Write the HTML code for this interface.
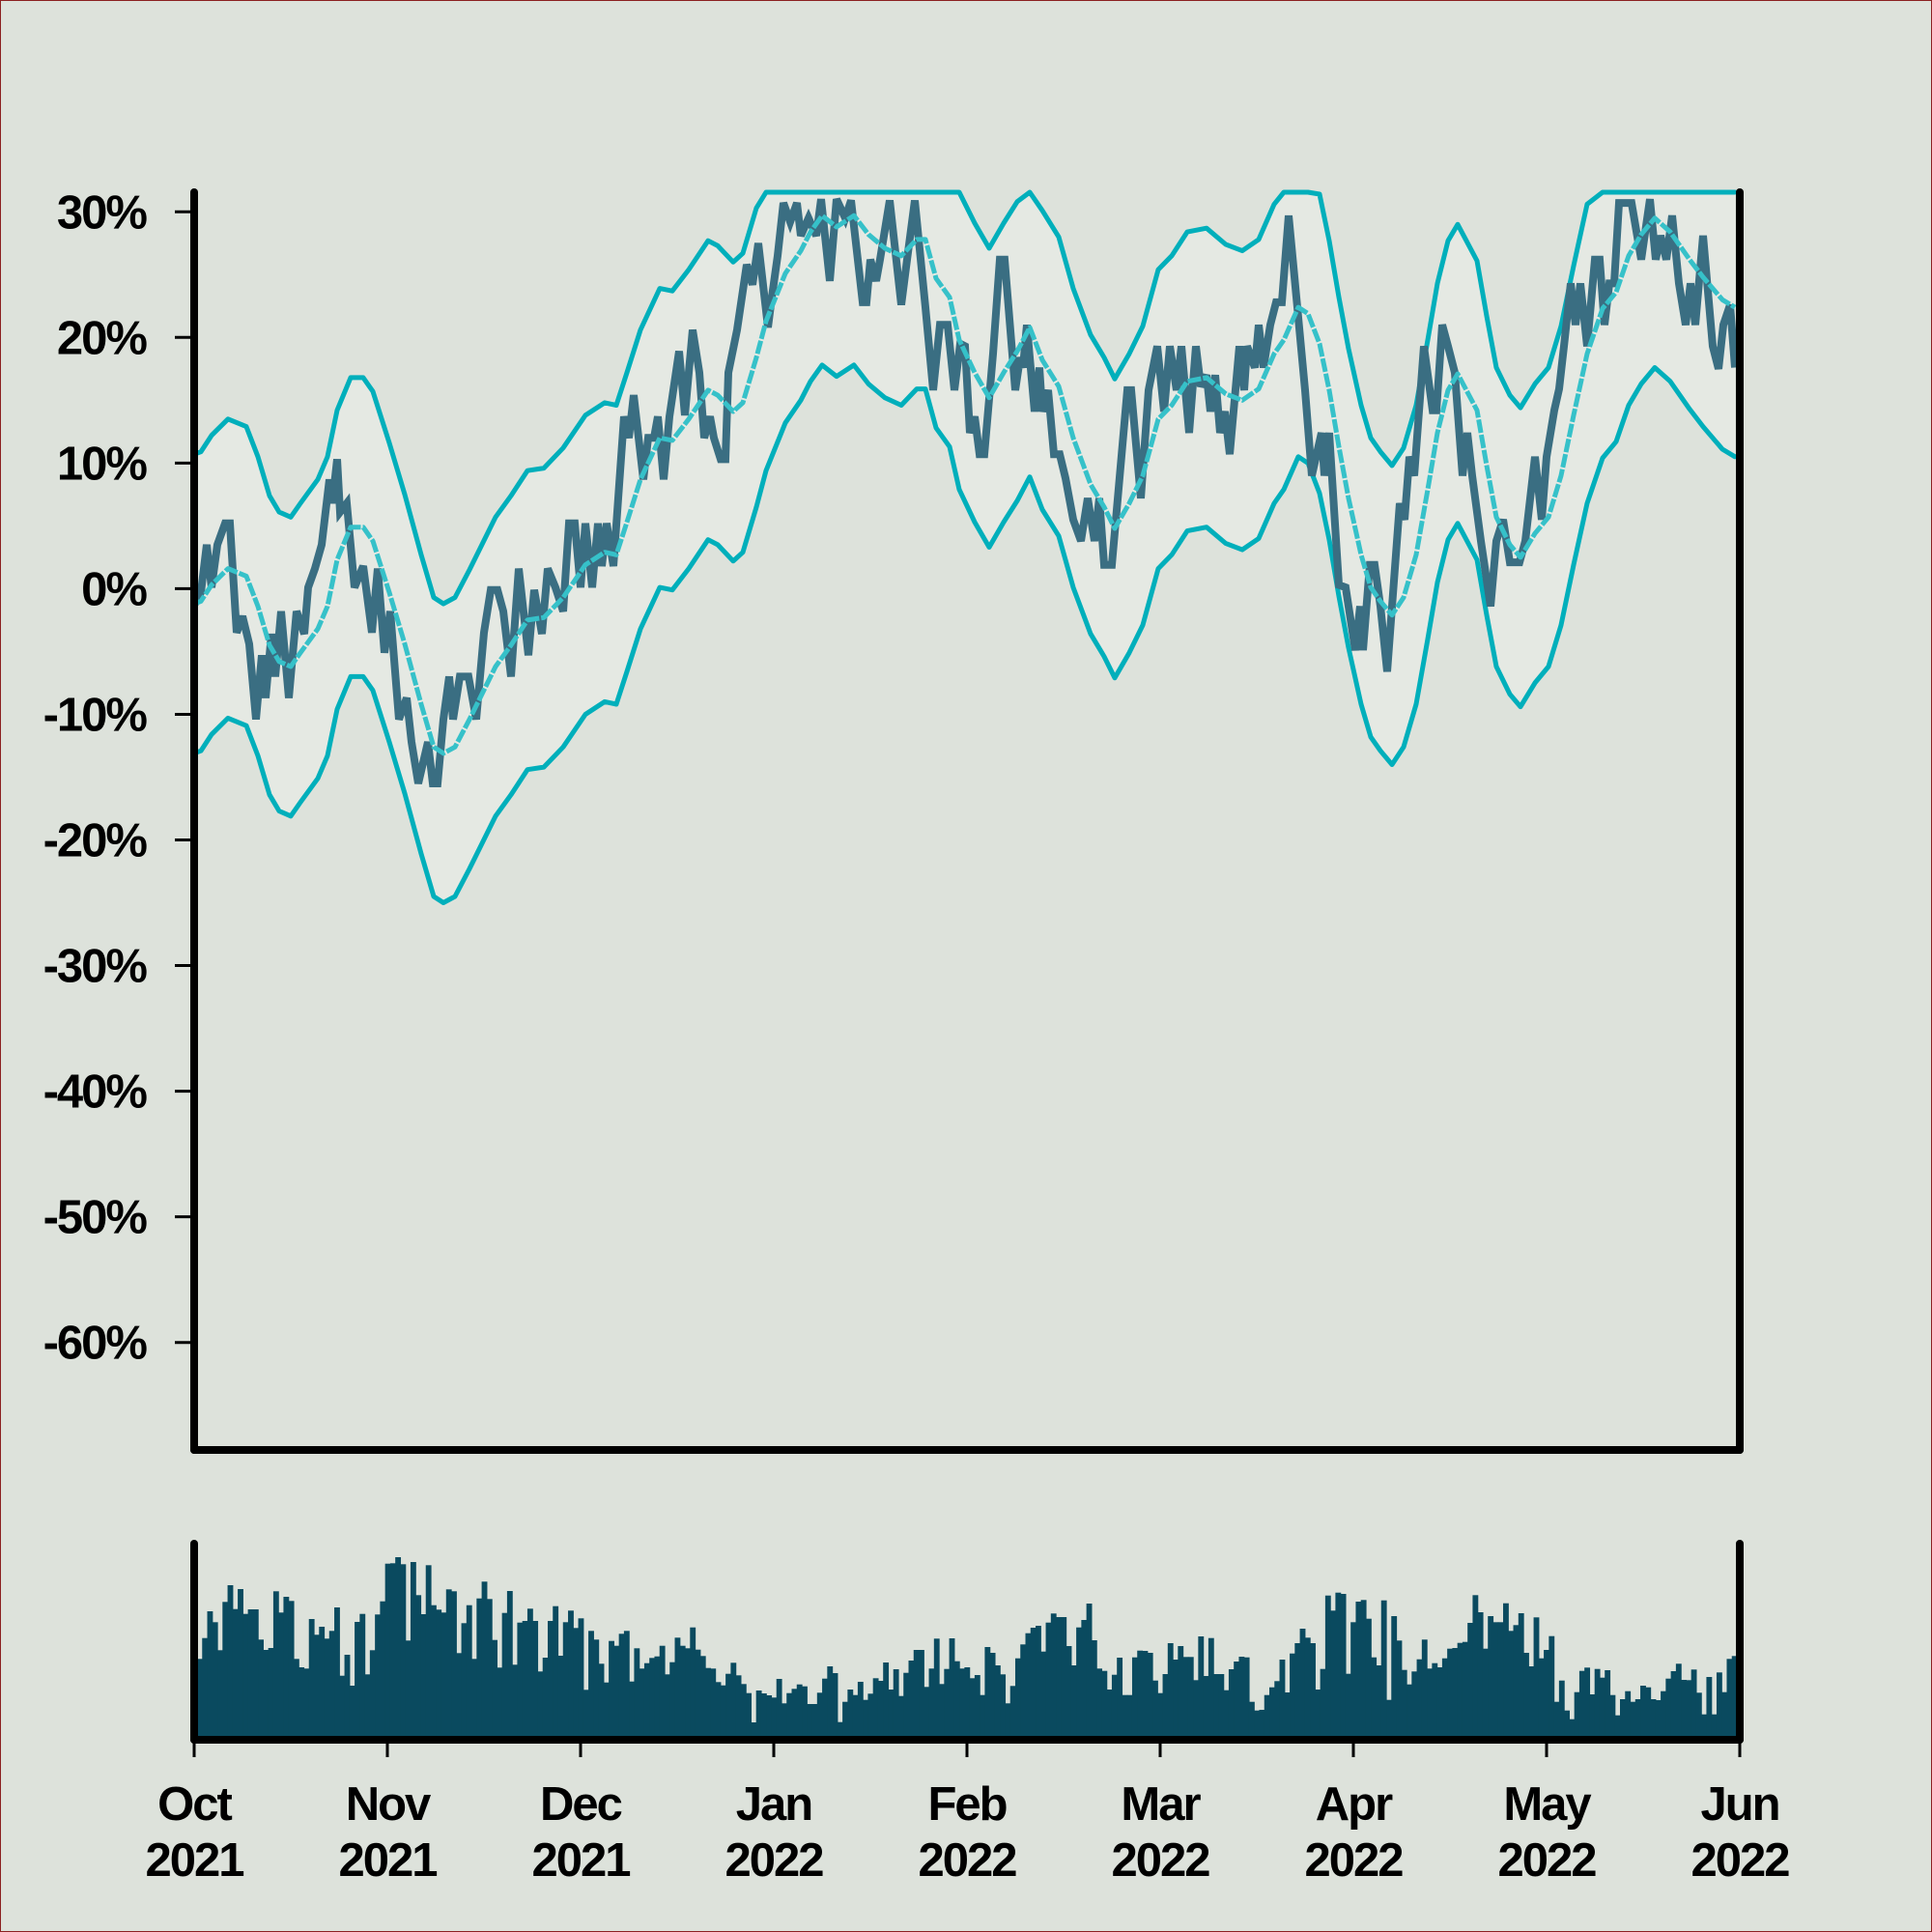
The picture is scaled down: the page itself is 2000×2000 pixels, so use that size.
<!DOCTYPE html>
<html><head><meta charset="utf-8">
<style>
html,body{margin:0;padding:0;background:#dde2db;}
#wrap{width:2000px;height:2000px;position:relative;box-sizing:border-box;border:1px solid #8b2020;background:#dde2db;overflow:hidden;}
svg text{font-family:"Liberation Sans",Arial,sans-serif;font-weight:bold;fill:#000;}
</style></head>
<body>
<div id="wrap">
<svg id="chart" width="2000" height="2000" viewBox="0 0 2000 2000">
  <g id="fillLayer"></g>
  <g id="lineLayer"></g>
  <g id="volLayer"></g>
  <g id="axisLayer"></g>
</svg>
</div>
<script>
const monthLabels = ["Oct","Nov","Dec","Jan","Feb","Mar","Apr","May","Jun"];
const yearLabels = ["2021","2021","2021","2022","2022","2022","2022","2022","2022"];
const yTickValues = [30,20,10,0,-10,-20,-30,-40,-50,-60];
const bandHalfWidth = 11.9;
const priceT = [0,.035,.065,.09,.12,.16,.185,.22,.25,.285,.32,.35,.37,.40,.42,.45,.49,.53,.57,.59,.625,.66,.70,.715,.74,.755,.79,.83,.875,.92,.95,.985,1.015,1.06,1.10,1.125,1.16,1.21,1.235,1.26,1.29,1.32,1.34,1.375,1.42,1.46,1.50,1.535,1.57,1.6,1.64,1.68,1.73,1.76,1.80,1.83,1.87,1.91,1.94,1.97,2.0,2.025,2.06,2.09,2.11,2.135,2.17,2.225,2.25,2.275,2.325,2.35,2.38,2.40,2.43,2.46,2.51,2.54,2.58,2.615,2.64,2.67,2.69,2.725,2.75,2.765,2.81,2.86,2.89,2.92,2.97,2.99,3.02,3.05,3.085,3.12,3.14,3.18,3.22,3.245,3.29,3.325,3.37,3.40,3.46,3.48,3.50,3.53,3.55,3.60,3.66,3.69,3.73,3.785,3.825,3.86,3.90,3.935,3.965,3.99,4.015,4.04,4.065,4.09,4.135,4.17,4.195,4.25,4.275,4.29,4.31,4.35,4.375,4.39,4.42,4.45,4.48,4.51,4.55,4.59,4.625,4.66,4.685,4.71,4.75,4.83,4.85,4.9,4.94,4.985,5.02,5.05,5.085,5.11,5.15,5.185,5.21,5.24,5.26,5.285,5.31,5.335,5.36,5.41,5.435,5.45,5.49,5.51,5.535,5.57,5.6,5.63,5.665,5.71,5.75,5.785,5.81,5.835,5.85,5.875,5.925,5.96,6.01,6.035,6.05,6.085,6.11,6.14,6.175,6.24,6.265,6.29,6.315,6.365,6.41,6.43,6.46,6.49,6.525,6.565,6.59,6.615,6.66,6.71,6.74,6.775,6.81,6.86,6.89,6.94,6.975,7.0,7.04,7.065,7.09,7.125,7.15,7.175,7.21,7.25,7.275,7.3,7.325,7.35,7.375,7.44,7.49,7.535,7.565,7.59,7.62,7.65,7.685,7.72,7.745,7.77,7.81,7.86,7.89,7.915,7.95,7.975];
const priceV = [-1.3,-0.3,3.5,0.1,3.5,5.2,5.2,-3.5,-2.2,-4.4,-10.4,-5.3,-8.7,-3.6,-7.0,-1.8,-8.7,-1.8,-3.6,0.1,1.6,3.5,8.7,6.8,10.3,6.1,6.8,0.1,1.8,-3.5,1.6,-5.1,-1.8,-10.4,-8.7,-12.2,-15.5,-12.2,-15.5,-15.5,-10.4,-7.0,-10.4,-7.0,-7.0,-10.4,-3.5,-0.1,-0.1,-1.8,-7.0,1.6,-5.3,-0.1,-3.6,1.6,0.1,-1.8,5.2,5.2,0.1,5.2,0.1,5.2,1.8,5.2,1.8,13.7,12.0,15.4,8.7,12.0,12.0,13.7,8.7,13.7,18.9,13.8,20.6,17.2,12.0,13.7,12.0,10.3,10.3,17.2,20.6,25.8,24.2,27.5,20.8,23.2,26.5,30.7,29.2,30.7,28.1,29.5,28.1,31.0,24.5,31.0,29.5,30.9,22.8,22.8,26.2,24.5,26.2,30.9,22.6,26.2,30.9,22.4,15.8,21.0,21.0,15.8,19.5,19.3,12.4,13.7,10.7,10.7,18.7,26.2,26.2,15.8,18.4,17.6,21.0,14.1,17.6,14.1,15.8,10.7,10.7,8.8,5.5,3.8,7.2,3.8,7.2,1.9,1.9,15.8,15.8,7.2,15.8,19.3,14.1,19.3,15.8,19.3,12.4,19.3,16.1,17.0,14.1,17.0,12.4,14.1,10.7,19.3,15.8,19.3,17.6,21.0,17.6,21.0,22.8,22.8,29.7,22.4,15.8,9.0,10.7,12.4,9.0,12.4,0.3,0.1,-4.9,-1.4,-4.9,1.9,1.9,-1.4,-6.6,6.8,5.5,10.5,9.0,19.3,14.2,14.2,21.0,19.3,17.2,9.0,12.4,9.0,3.8,-1.4,3.8,5.5,2.1,2.1,3.8,10.5,5.5,10.5,14.2,15.9,19.3,24.3,21.0,24.3,19.3,26.2,26.2,21.0,24.3,24.3,30.7,30.7,26.2,31.0,26.2,28.1,26.2,29.7,24.3,21.0,24.3,21.0,28.1,19.3,17.5,21.0,22.6,17.6];
const midT = [0,.035,.09,.175,.27,.33,.39,.44,.50,.55,.64,.69,.74,.81,.875,.925,1.01,1.09,1.175,1.24,1.29,1.35,1.425,1.56,1.64,1.725,1.81,1.91,2.025,2.125,2.185,2.24,2.31,2.41,2.475,2.56,2.66,2.71,2.79,2.84,2.91,2.96,3.06,3.14,3.19,3.25,3.325,3.415,3.49,3.575,3.66,3.74,3.785,3.84,3.91,3.96,4.04,4.115,4.19,4.26,4.325,4.39,4.475,4.55,4.64,4.71,4.765,4.84,4.91,4.99,5.06,5.14,5.24,5.34,5.425,5.51,5.59,5.64,5.715,5.765,5.825,5.875,5.925,5.975,6.04,6.09,6.14,6.2,6.26,6.325,6.385,6.435,6.49,6.54,6.64,6.69,6.74,6.81,6.865,6.94,7.01,7.075,7.14,7.21,7.29,7.36,7.425,7.49,7.56,7.64,7.74,7.81,7.91,7.975];
const midV = [-1.2,-1.0,0.3,1.6,1.0,-1.4,-4.5,-5.8,-6.2,-5.1,-3.2,-1.4,2.3,4.9,4.9,3.8,-0.3,-4.4,-9.2,-12.6,-13.1,-12.6,-10.4,-6.2,-4.5,-2.5,-2.3,-0.7,1.9,2.9,2.7,5.3,8.7,12.0,11.8,13.5,15.8,15.4,14.1,14.8,18.4,21.3,25.1,26.9,28.4,29.7,28.8,29.7,28.2,27.1,26.5,27.8,27.8,24.7,23.2,19.8,17.2,15.2,17.2,18.9,20.8,18.2,16.1,12.0,8.3,6.5,4.8,6.8,9.0,13.5,14.6,16.5,16.8,15.5,15.0,15.9,18.7,19.8,22.4,21.9,19.5,15.8,11.3,7.2,2.7,0.1,-1.0,-2.1,-0.7,2.7,7.9,12.4,15.8,17.1,14.2,9.8,5.7,3.5,2.5,4.4,5.7,9.0,13.8,18.7,22.3,23.6,26.5,28.2,29.5,28.4,26.2,24.8,23.0,22.4];
const volumeA = [230,295,378,344,257,407,459,385,447,370,384,384,290,258,264,440,374,423,410,230,204,200,354,305,330,293,317,390,178,243,147,345,370,182,257,368,409,526,527,546,524,287,531,428,369,521,397,383,374,446,440,248,341,397,230,418,470,416,289,203,373,441,212,343,348,386,348,191,234,348,394,240,344,380,326,356,134,317,290,215,157,286,271,308,317,160,263,200,217,233,238,271,182,220,296,271,263,328,259,239,202,200,158,148,184,218,179,152,124,33,132,123,117,110,168,92,124,137,151,145,90,90,125,169,207,186,34,97,135,118,159,103,122,170,162,219,135,198,115,187,225,258,258,143,200,293];
const volumeB = [152,199,294,223,200,204,170,180,118,267,249,210,182,92,146,232,275,310,327,333,253,343,371,360,360,270,210,328,351,402,288,200,193,135,181,234,118,118,235,256,255,249,163,124,183,279,228,270,236,236,164,300,177,295,183,183,133,198,222,237,235,97,70,72,118,142,161,228,126,247,279,324,296,279,135,199,427,380,436,432,184,344,408,413,355,235,210,412,103,363,287,196,151,191,229,290,200,217,204,232,262,264,280,283,342,428,375,262,363,344,344,403,317,335,372,249,207,359,232,258,301,97,163,70,43,127,193,203,120,199,172,195,118,55,105,130,97,105,147,142,105,102,130,169,192,215,165,164,197,125,58,174,58,188,127,230,239];

const NS = "http://www.w3.org/2000/svg";
const X0 = 200, X1 = 1800, Y0 = 608.4, PX10 = 130.05, TOP = 198, BOT = 1500;
const VBASE = 1793, VMAX = 600, VH = 200;
const xScale = t => X0 + t * (X1 - X0) / 8;
const yScale = v => Y0 - v * PX10 / 10;
const clampTop = v => Math.min(v, (Y0 - TOP) * 10 / PX10);
const vScale = v => VBASE - v / VMAX * VH;

function mk(tag, attrs, parent) {
  const e = document.createElementNS(NS, tag);
  for (const k in attrs) e.setAttribute(k, attrs[k]);
  parent.appendChild(e);
  return e;
}
const fillL = document.getElementById('fillLayer');
const lineL = document.getElementById('lineLayer');
const volL = document.getElementById('volLayer');
const axL = document.getElementById('axisLayer');

const upperPts = midT.map((t, i) => [xScale(t), yScale(clampTop(midV[i] + bandHalfWidth))]);
const lowerPts = midT.map((t, i) => [xScale(t), yScale(midV[i] - bandHalfWidth)]);
const ptsStr = a => a.map(p => p[0].toFixed(1) + ',' + p[1].toFixed(1)).join(' ');
const fill = mk('polygon', {points: ptsStr(upperPts.concat(lowerPts.slice().reverse())), fill: '#e5e9e3', stroke: 'none'}, fillL);



const up = mk('polyline', {points: ptsStr(upperPts), fill: 'none', stroke: '#00afbb', 'stroke-width': 5, 'stroke-linejoin': 'round', 'stroke-linecap': 'round'}, lineL);


const lo = mk('polyline', {points: ptsStr(lowerPts), fill: 'none', stroke: '#00afbb', 'stroke-width': 5, 'stroke-linejoin': 'round', 'stroke-linecap': 'round'}, lineL);



const pricePts = priceT.map((t, i) => [xScale(t), yScale(clampTop(priceV[i]))]);
const pr = mk('polyline', {points: ptsStr(pricePts), fill: 'none', stroke: '#3a6e82', 'stroke-width': 8, 'stroke-linejoin': 'miter', 'stroke-miterlimit': 3}, lineL);



const midPts = midT.map((t, i) => [xScale(t), yScale(midV[i])]);
const md = mk('polyline', {points: ptsStr(midPts), fill: 'none', stroke: '#36c1c9', 'stroke-width': 5, 'stroke-linejoin': 'round', 'stroke-dasharray': '14 2'}, lineL);



const vols = volumeA.concat(volumeB);
const step = (1797 - 203) / vols.length;
vols.forEach((v, i) => {
  const r = mk('rect', {x: (203 + i * step).toFixed(2), y: vScale(v).toFixed(1), width: (step + 0.6).toFixed(2), height: (VBASE - vScale(v) + 4).toFixed(1), fill: '#0a4a5f'}, volL);
  
  
});

function line(x1, y1, x2, y2, w, name) {
  const l = mk('line', {x1, y1, x2, y2, stroke: '#000', 'stroke-width': w, 'stroke-linecap': 'round'}, axL);
  
  
}
line(X0, TOP, X0, BOT, 8, 'y-axis-left');
line(X1, TOP, X1, BOT, 8, 'y-axis-right');
line(X0, BOT, X1, BOT, 8, 'x-axis-main');
line(X0, 1597, X0, 1800, 8, 'volume-axis-left');
line(X1, 1597, X1, 1800, 8, 'volume-axis-right');
line(X0, 1800, X1, 1800, 8, 'volume-axis-bottom');

yTickValues.forEach(v => {
  const y = yScale(v);
  const tk = mk('line', {x1: 180, y1: y, x2: 200, y2: y, stroke: '#000', 'stroke-width': 3}, axL);
  
  
  const tx = mk('text', {x: 150, y: y + 17, 'text-anchor': 'end', 'font-size': 49, 'letter-spacing': '-2'}, axL);
  tx.textContent = v + '%';
  
  
});

monthLabels.forEach((m, i) => {
  const x = xScale(i);
  const tk = mk('line', {x1: x, y1: 1800, x2: x, y2: 1818, stroke: '#000', 'stroke-width': 3}, axL);
  
  
  const t1 = mk('text', {x: x, y: 1883, 'text-anchor': 'middle', 'font-size': 49, 'letter-spacing': '-2'}, axL);
  t1.textContent = m;
  
  
  const t2 = mk('text', {x: x, y: 1941, 'text-anchor': 'middle', 'font-size': 49, 'letter-spacing': '-2'}, axL);
  t2.textContent = yearLabels[i];
  
  
});
</script>
</body></html>
